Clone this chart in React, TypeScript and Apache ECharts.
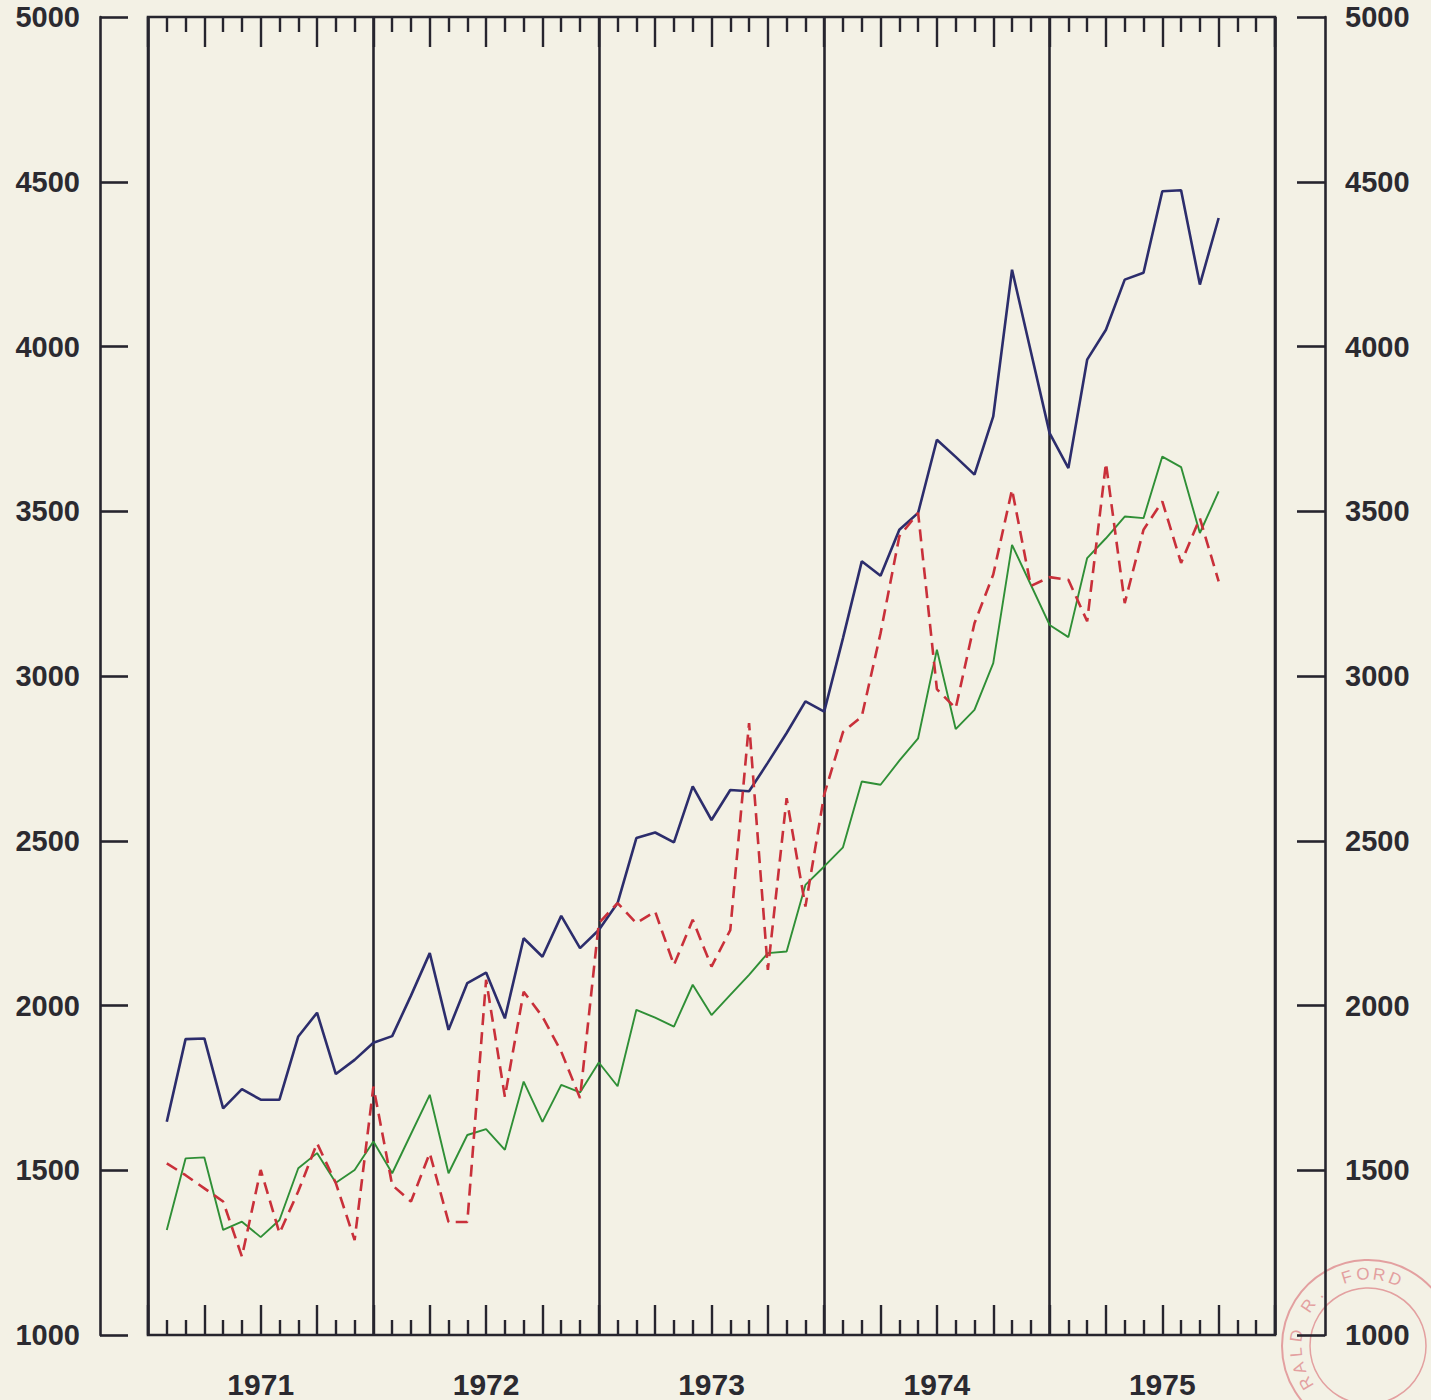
import React, { useEffect, useRef } from "react";
import * as echarts from "echarts";

// Year categories (bottom labels)
const years = ["1971", "1972", "1973", "1974", "1975"];

// Monthly values, month 1 .. 57 counted from January 1971
const blueSeries = [
  1647, 1898, 1900, 1688, 1746, 1714, 1714, 1906, 1978, 1792, 1835, 1887,
  1907, 2030, 2159, 1926, 2068, 2100, 1961, 2204, 2148, 2272, 2174, 2229,
  2311, 2508, 2525, 2495, 2665, 2563, 2654, 2650, 2737, 2827, 2923, 2892,
  3115, 3348, 3304, 3444, 3495, 3717, 3665, 3611, 3788, 4233, 3985, 3737,
  3631, 3960, 4051, 4203, 4224, 4471, 4474, 4188, 4390,
];

const greenSeries = [
  1319, 1536, 1539, 1319, 1344, 1297, 1349, 1506, 1552, 1462, 1501, 1587,
  1491, 1610, 1729, 1491, 1607, 1625, 1562, 1769, 1647, 1759, 1736, 1827,
  1755, 1987, 1963, 1936, 2063, 1971, 2032, 2093, 2159, 2164, 2366, 2422,
  2480, 2680, 2670, 2743, 2811, 3080, 2839, 2897, 3039, 3398, 3277, 3155,
  3118, 3358, 3418, 3484, 3479, 3666, 3634, 3434, 3560,
];

const redSeries = [
  1521, 1485, 1445, 1405, 1238, 1501, 1309, 1436, 1582, 1461, 1288, 1754,
  1455, 1405, 1552, 1343, 1343, 2078, 1723, 2042, 1966, 1860, 1719, 2250,
  2311, 2250, 2285, 2123, 2260, 2118, 2229, 2857, 2108, 2629, 2300, 2640,
  2830, 2877, 3130, 3424, 3495, 2960, 2902, 3160, 3308, 3566, 3273, 3300,
  3292, 3166, 3646, 3221, 3444, 3530, 3343, 3479, 3287,
];

const stampText = "GERALD R. FORD LIBRARY";

const AXIS = "#26252e";
const BG = "#f3f1e5";
const LABEL_FONT = {
  fontFamily: "Liberation Sans",
  fontWeight: "bold" as const,
  color: "#2b2a30",
};

function toPairs(values: number[]) {
  return values.map((v, i) => [i + 1, v]);
}

function stampGraphics() {
  const cx = 1368;
  const cy = 1346;
  const color = "#e3a0a0";
  const items: any[] = [
    { type: "circle", shape: { cx, cy, r: 86 }, style: { fill: "none", stroke: color, lineWidth: 2 }, silent: true },
    { type: "circle", shape: { cx, cy, r: 58 }, style: { fill: "none", stroke: color, lineWidth: 1.5 }, silent: true },
  ];
  const chars = stampText.split("");
  const step = 13;
  const fIndex = stampText.indexOf("F");
  chars.forEach((ch, i) => {
    if (ch === " ") return;
    const deg = -17 + (i - fIndex) * step;
    const th = (deg * Math.PI) / 180;
    const r = 72;
    const x = cx + r * Math.sin(th);
    const y = cy - r * Math.cos(th);
    if (x > 1418 || y > 1386) return;
    items.push({
      type: "text",
      x,
      y,
      rotation: -th,
      silent: true,
      style: {
        text: ch,
        fontSize: 17,
        fontFamily: "Liberation Sans",
        fill: color,
        align: "center",
        verticalAlign: "middle",
      },
    });
  });
  return items;
}

export default function App() {
  const ref = useRef<HTMLDivElement>(null);

  useEffect(() => {
    if (!ref.current) return;
    const chart = echarts.init(ref.current, null, { renderer: "svg" });

    const monthAxisCommon = {
      type: "value",
      min: 0,
      max: 60,
      interval: 3,
      axisLine: { show: false, onZero: false },
      axisLabel: { show: false },
      splitLine: { show: false },
      axisTick: { show: true, inside: true, length: 30, lineStyle: { color: AXIS, width: 2.4 } },
      minorTick: { show: true, splitNumber: 3, length: 15, lineStyle: { color: AXIS, width: 2.4 } },
      minorSplitLine: { show: false },
    };

    const yAxisCommon = {
      type: "value",
      min: 1000,
      max: 5000,
      interval: 500,
      splitLine: { show: false },
      axisLine: { show: true, onZero: false, lineStyle: { color: AXIS, width: 2.6 } },
      axisTick: { show: true, inside: true, length: 28, lineStyle: { color: AXIS, width: 2.6 } },
      axisLabel: {
        ...LABEL_FONT,
        fontSize: 29,
        margin: 20,
        formatter: (v: number) => String(v),
      },
    };

    chart.setOption({
      animation: false,
      backgroundColor: BG,
      grid: {
        left: 148,
        right: 156,
        top: 17,
        bottom: 65,
        show: true,
        borderColor: AXIS,
        borderWidth: 2.6,
        backgroundColor: "transparent",
      },
      xAxis: [
        { ...monthAxisCommon, position: "bottom" },
        { ...monthAxisCommon, position: "top" },
        {
          type: "category",
          data: years,
          position: "bottom",
          boundaryGap: true,
          axisLine: { show: false, onZero: false },
          axisTick: { show: false },
          splitLine: { show: true, lineStyle: { color: AXIS, width: 2.6 } },
          axisLabel: { ...LABEL_FONT, fontSize: 30, lineHeight: 30, margin: 34 },
        },
      ],
      yAxis: [
        { ...yAxisCommon, position: "left", offset: 48 },
        { ...yAxisCommon, position: "right", offset: 50 },
      ],
      series: [
        {
          name: "blue",
          type: "line",
          xAxisIndex: 0,
          yAxisIndex: 0,
          data: toPairs(blueSeries),
          symbol: "none",
          lineStyle: { color: "#2c2d6c", width: 2.6 },
          z: 4,
        },
        {
          name: "green",
          type: "line",
          xAxisIndex: 0,
          yAxisIndex: 0,
          data: toPairs(greenSeries),
          symbol: "none",
          lineStyle: { color: "#2f8f36", width: 1.9 },
          z: 3,
        },
        {
          name: "red",
          type: "line",
          xAxisIndex: 0,
          yAxisIndex: 0,
          data: toPairs(redSeries),
          symbol: "none",
          lineStyle: { color: "#c9303a", width: 2.6, type: [12, 7] },
          z: 5,
        },
      ],
      graphic: stampGraphics(),
    });

    return () => chart.dispose();
  }, []);

  return (
    <div
      ref={ref}
      style={{ position: "absolute", left: 0, top: 0, width: 1431, height: 1400 }}
    />
  );
}
